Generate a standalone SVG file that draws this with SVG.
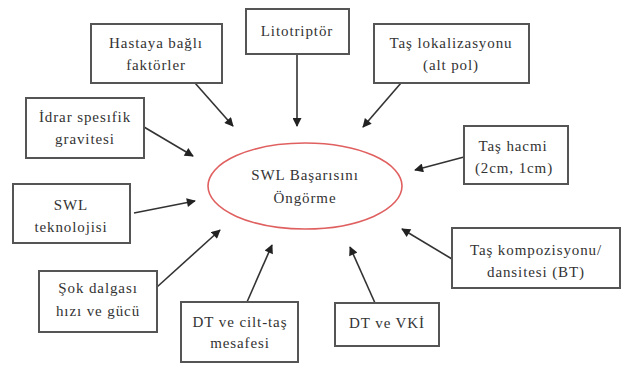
<svg xmlns="http://www.w3.org/2000/svg" width="639" height="365" viewBox="0 0 639 365">
<style>
.box{fill:#fff;stroke:#555;stroke-width:2}
text{font-family:'Liberation Serif','Times New Roman',serif;font-size:15px;letter-spacing:0.9px;fill:#333;text-anchor:middle}
.c{stroke:#333;stroke-width:1.6;fill:none;marker-end:url(#ah)}
</style>
<defs>
<marker id="ah" viewBox="0 0 10 10" refX="9" refY="5" markerWidth="11" markerHeight="9" markerUnits="userSpaceOnUse" orient="auto">
<path d="M0,0 L10,5 L0,10 z" fill="#222"/>
</marker>
</defs>
<rect width="639" height="365" fill="#fff"/>
<g id="connectors">
<line class="c" x1="195" y1="83" x2="233" y2="126"/>
<line class="c" x1="297" y1="54" x2="297" y2="126"/>
<line class="c" x1="144" y1="127" x2="193" y2="156"/>
<line class="c" x1="401" y1="83" x2="363" y2="127"/>
<line class="c" x1="464" y1="157" x2="415" y2="170"/>
<line class="c" x1="134" y1="213" x2="195" y2="201"/>
<line class="c" x1="157" y1="287" x2="220" y2="230"/>
<line class="c" x1="247" y1="302" x2="272" y2="245"/>
<line class="c" x1="375" y1="303" x2="350" y2="247"/>
<line class="c" x1="452" y1="259" x2="402" y2="229"/>
</g>
<g id="center">
<ellipse cx="305" cy="186" rx="97" ry="43" fill="#fff" stroke="#e06060" stroke-width="1.6"/>
<text x="305" y="180">SWL Başarısını</text>
<text x="305" y="203">Öngörme</text>
</g>
<g id="hastaya">
<rect class="box" x="91" y="24" width="131" height="59"/>
<text x="156" y="48">Hastaya bağlı</text>
<text x="156" y="70">faktörler</text>
</g>
<g id="litotriptor">
<rect class="box" x="246" y="9" width="103" height="45"/>
<text x="297" y="36">Litotriptör</text>
</g>
<g id="lokalizasyon">
<rect class="box" x="374" y="24" width="155" height="59"/>
<text x="451" y="48">Taş lokalizasyonu</text>
<text x="451" y="70">(alt pol)</text>
</g>
<g id="idrar">
<rect class="box" x="26" y="98" width="118" height="60"/>
<text x="85" y="122">İdrar spesıfik</text>
<text x="85" y="144">gravitesi</text>
</g>
<g id="hacim">
<rect class="box" x="464" y="126" width="104" height="58"/>
<text x="513" y="151">Taş hacmi</text>
<text x="514" y="173">(2cm, 1cm)</text>
</g>
<g id="teknoloji">
<rect class="box" x="13" y="184" width="117" height="59"/>
<text x="71" y="210">SWL</text>
<text x="71" y="232">teknolojisi</text>
</g>
<g id="sok">
<rect class="box" x="39" y="271" width="118" height="61" stroke-width="2.6"/>
<text x="98" y="293">Şok dalgası</text>
<text x="98" y="316">hızı ve gücü</text>
</g>
<g id="ciltmesafe">
<rect class="box" x="181" y="302" width="117" height="60"/>
<text x="240" y="327">DT ve cilt-taş</text>
<text x="240" y="348">mesafesi</text>
</g>
<g id="vki">
<rect class="box" x="335" y="303" width="104" height="43"/>
<text x="387" y="328">DT ve VKİ</text>
</g>
<g id="kompozisyon">
<rect class="box" x="452" y="228" width="168" height="60"/>
<text x="536" y="255">Taş kompozisyonu/</text>
<text x="536" y="277">dansitesi (BT)</text>
</g>
</svg>
